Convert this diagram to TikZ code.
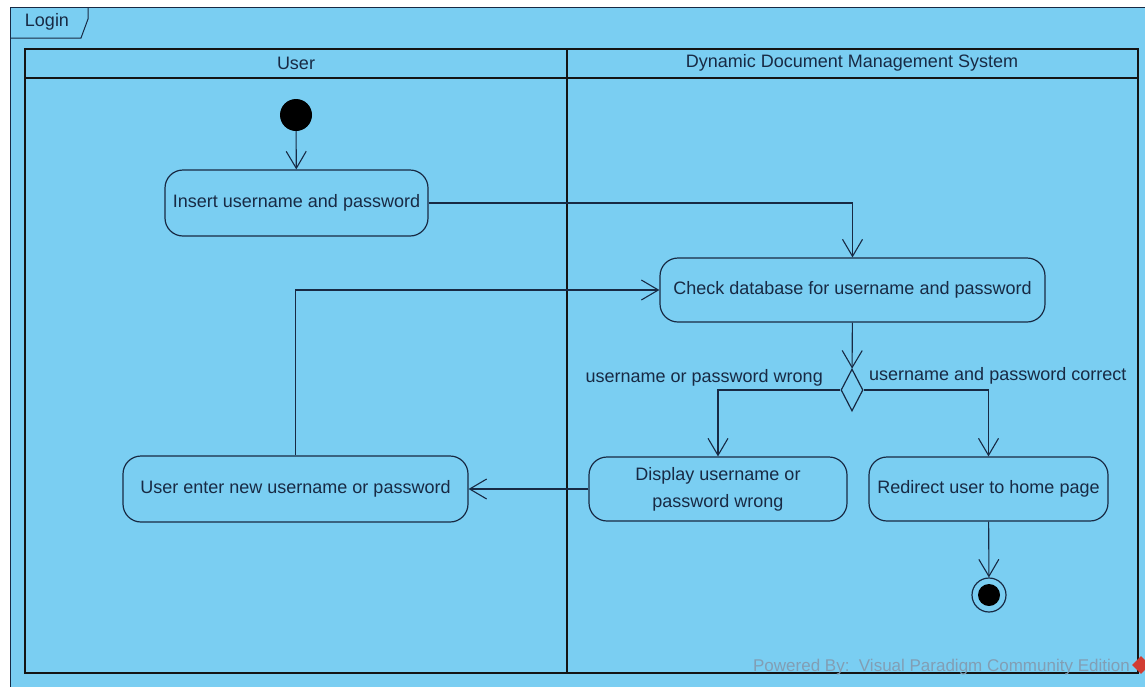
\documentclass[tikz,border=0pt]{standalone}
\usepackage{fontspec}
\setmainfont{Liberation Sans}
\usetikzlibrary{arrows.meta,shapes.geometric}

\definecolor{lanebg}{RGB}{122,206,242}
\definecolor{ink}{RGB}{24,42,68}
\definecolor{wmgrey}{RGB}{130,158,180}
\definecolor{vpred}{RGB}{210,60,50}

\begin{document}
\begin{tikzpicture}[x=1pt,y=-1pt,
  font=\fontsize{18}{27}\selectfont,
  act/.style={draw=ink, line width=1.2pt, rounded corners=18pt, text=ink,
    inner sep=0pt, align=center, fill=lanebg},
  flow/.style={draw=ink, line width=1.1pt,
    -{Straight Barb[length=17pt,width=20pt,line width=1.1pt]}},
  lane/.style={draw=black!92, line width=2.8pt},
  lbl/.style={text=ink, inner sep=0pt}
]
\useasboundingbox (0,0) rectangle (1145,686);
\fill[white] (0,0) rectangle (1145,686);

\begin{scope}
  \clip (0,0) rectangle (1145,686);
  % diagram frame and its name tab
  \path[fill=lanebg, draw=ink, line width=1pt] (10,7) rectangle (1170,710);
  \draw[ink, line width=1pt] (10,38) -- (81,38) -- (88,19) -- (88,7);
  \node[lbl] (tab) at (47,22) {Login};

  % swimlanes
  \draw[lane] (25,49) rectangle (1138,673);
  \draw[lane] (25,78) -- (1138,78);
  \draw[lane] (567,49) -- (567,673);
  \node[lbl] (laneuser) at (296,63) {User};
  \node[lbl] (lanesys) at (852,63) {Dynamic Document Management System};

  % activities
  \node[circle, fill=black, minimum size=32pt, inner sep=0pt] (start) at (296,115) {};
  \node[act, minimum width=263pt, minimum height=66pt] (insert) at (296.5,203)
    {Insert username and password};
  \node[act, minimum width=385pt, minimum height=64pt] (check) at (852.5,290)
    {Check database for username and password};
  \node[diamond, draw=ink, line width=1.2pt, fill=lanebg, minimum width=22pt,
    minimum height=42pt, inner sep=0pt] (decide) at (852,390) {};
  \node[act, minimum width=258pt, minimum height=64pt] (display) at (718,489)
    {Display username or\\password wrong};
  \node[act, minimum width=239pt, minimum height=64pt] (redirect) at (988.5,489)
    {Redirect user to home page};
  \node[act, minimum width=345pt, minimum height=66pt] (reenter) at (295.5,489)
    {User enter new username or password};
  \node[circle, draw=ink, line width=1.2pt, minimum size=34pt, inner sep=0pt] (final) at (989,595) {};
  \node[circle, fill=black, minimum size=22pt, inner sep=0pt] (finaldot) at (989,595) {};

  % control flows
  \draw[flow] (start) -- (insert);
  \draw[flow] (insert.east) -| (check.north);
  \draw[flow] (check) -- (decide);
  \draw[flow] (decide.west) -| (display.north);
  \draw[flow] (decide.east) -| (redirect.north);
  \draw[flow] (redirect) -- (final);
  \draw[flow] (display) -- (reenter);
  \draw[flow] (reenter.north) |- (check.west);

  % guards
  \node[lbl, anchor=east] (guardwrong) at (823,378) {username or password wrong};
  \node[lbl, anchor=west] (guardok) at (869,376) {username and password correct};

  % tool watermark
  \node[text=wmgrey, inner sep=0pt, anchor=east, font=\fontsize{17}{20}\selectfont]
    (mark) at (1130,667) {Powered By:\ \ Visual Paradigm Community Edition};
  \node[diamond, fill=vpred, minimum size=18pt, inner sep=0pt] (logo) at (1141,665) {};
\end{scope}
\end{tikzpicture}
\end{document}
